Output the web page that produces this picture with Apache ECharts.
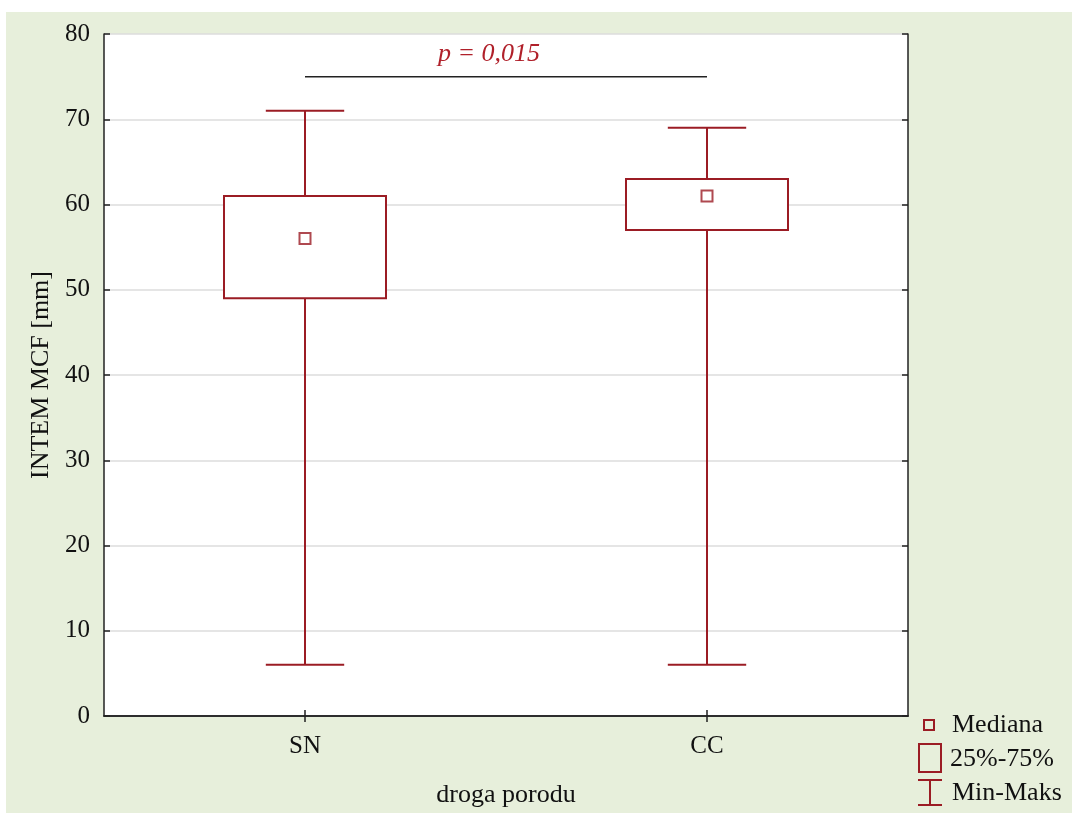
<!DOCTYPE html>
<html>
<head>
<meta charset="utf-8">
<script src="https://cdn.jsdelivr.net/npm/echarts@6/dist/echarts.min.js"></script>
<style>
html,body{margin:0;padding:0;background:#ffffff;overflow:hidden;}
#chart{width:1072px;height:813px;
  background: linear-gradient(#e7efdb,#e7efdb) no-repeat 6px 12px / 100% 100%, #ffffff;}
</style>
</head>
<body>
<div id="chart"></div>
<script>
var categories = ['SN', 'CC'];
var minValues = [6, 6];
var q1Values = [49, 57];
var medianValues = [56, 61];
var q3Values = [61, 63];
var maxValues = [71, 69];
var pLineValue = 75;
var pText = 'p = 0,015';
var yTicks = [0, 10, 20, 30, 40, 50, 60, 70, 80];

var RED = '#9b1c24';
var FONT = '"Liberation Serif", "Times New Roman", serif';

var boxData = categories.map(function (c, i) {
  return [i, minValues[i], q1Values[i], medianValues[i], q3Values[i], maxValues[i]];
});
var medianData = categories.map(function (c, i) { return [c, medianValues[i]]; });

function renderBox(params, api) {
  var idx = api.value(0);
  var pMin = api.coord([idx, api.value(1)]);
  var pQ1 = api.coord([idx, api.value(2)]);
  var pQ3 = api.coord([idx, api.value(4)]);
  var pMax = api.coord([idx, api.value(5)]);
  var band = api.size([1, 0])[0];
  var bw = band * 0.403;
  var cw = band * 0.195;
  var x = pQ1[0];
  var ls = {stroke: RED, lineWidth: 2, fill: null};
  return {
    type: 'group',
    children: [
      {type: 'line', shape: {x1: x, y1: pMin[1], x2: x, y2: pQ1[1]}, style: ls},
      {type: 'line', shape: {x1: x, y1: pQ3[1], x2: x, y2: pMax[1]}, style: ls},
      {type: 'line', shape: {x1: x - cw / 2, y1: pMin[1], x2: x + cw / 2, y2: pMin[1]}, style: ls},
      {type: 'line', shape: {x1: x - cw / 2, y1: pMax[1], x2: x + cw / 2, y2: pMax[1]}, style: ls},
      {type: 'rect', shape: {x: x - bw / 2, y: pQ3[1], width: bw, height: pQ1[1] - pQ3[1]},
        style: {stroke: RED, lineWidth: 2, fill: '#ffffff'}}
    ]
  };
}

var axisLabelStyle = {color: '#111', fontFamily: FONT, fontSize: 25};

var chart = echarts.init(document.getElementById('chart'), null, {renderer: 'canvas', width: 1072, height: 813});
chart.setOption({
  backgroundColor: 'transparent',
  animation: false,
  grid: {left: 104, right: 164, top: 34, bottom: 95, show: true, backgroundColor: '#ffffff', borderWidth: 0},
  xAxis: [{
    type: 'category',
    data: categories,
    boundaryGap: true,
    name: 'droga porodu',
    nameLocation: 'middle',
    nameGap: 66,
    nameTextStyle: {color: '#111', fontFamily: FONT, fontSize: 26},
    axisLine: {show: true, lineStyle: {color: '#222', width: 1.5}},
    axisTick: {show: true, inside: true, alignWithLabel: true, length: 6, lineStyle: {color: '#222', width: 1.5}},
    axisLabel: Object.assign({margin: 18}, axisLabelStyle),
    splitLine: {show: false}
  }, {
    type: 'category',
    data: categories,
    position: 'top',
    boundaryGap: true,
    axisLine: {show: true, lineStyle: {color: '#222', width: 1.5}},
    axisTick: {show: true, inside: true, alignWithLabel: true, length: 6, lineStyle: {color: '#222', width: 1.5}},
    axisLabel: {show: false},
    splitLine: {show: false}
  }],
  yAxis: [{
    type: 'value',
    min: 0, max: 80, interval: 10,
    name: 'INTEM MCF [mm]',
    nameLocation: 'middle',
    nameGap: 46,
    nameTextStyle: {color: '#111', fontFamily: FONT, fontSize: 26},
    axisLine: {show: true, lineStyle: {color: '#222', width: 1.5}},
    axisTick: {show: true, inside: true, length: 6, lineStyle: {color: '#222', width: 1.5}},
    axisLabel: Object.assign({margin: 14, formatter: function (v) { return yTicks.indexOf(v) >= 0 ? String(v) : ''; }}, axisLabelStyle),
    splitLine: {show: true, lineStyle: {color: '#dcdcdc', width: 1.5}}
  }, {
    type: 'value',
    position: 'right',
    min: 0, max: 80, interval: 10,
    axisLine: {show: true, lineStyle: {color: '#222', width: 1.5}},
    axisTick: {show: true, inside: true, length: 6, lineStyle: {color: '#222', width: 1.5}},
    axisLabel: {show: false},
    splitLine: {show: false}
  }],
  series: [{
    type: 'custom',
    name: 'box',
    renderItem: renderBox,
    data: boxData,
    encode: {x: 0, y: [1, 2, 3, 4, 5]},
    z: 3
  }, {
    type: 'scatter',
    name: 'Mediana',
    data: medianData,
    symbol: 'rect',
    symbolSize: 11,
    itemStyle: {color: '#ffffff', borderColor: RED, borderWidth: 2},
    z: 5
  }, {
    type: 'line',
    name: 'p',
    data: [[categories[0], pLineValue], [categories[1], pLineValue]],
    symbol: 'none',
    lineStyle: {color: '#222', width: 1.5},
    z: 4
  }],
  graphic: [
    {type: 'text', left: 438, top: 41, style: {text: pText, fill: '#b0202a', font: 'italic 26px ' + FONT}},
    {type: 'rect', shape: {x: 924, y: 720, width: 10, height: 10}, style: {stroke: RED, lineWidth: 2, fill: null}},
    {type: 'text', x: 952, y: 725, style: {text: 'Mediana', fill: '#111', font: '26px ' + FONT, verticalAlign: 'middle'}},
    {type: 'rect', shape: {x: 919, y: 744, width: 22, height: 28}, style: {stroke: RED, lineWidth: 2, fill: null}},
    {type: 'text', x: 950, y: 759, style: {text: '25%-75%', fill: '#111', font: '26px ' + FONT, verticalAlign: 'middle'}},
    {type: 'line', shape: {x1: 918, y1: 780, x2: 942, y2: 780}, style: {stroke: RED, lineWidth: 2}},
    {type: 'line', shape: {x1: 918, y1: 805, x2: 942, y2: 805}, style: {stroke: RED, lineWidth: 2}},
    {type: 'line', shape: {x1: 930, y1: 780, x2: 930, y2: 805}, style: {stroke: RED, lineWidth: 2}},
    {type: 'text', x: 952, y: 793, style: {text: 'Min-Maks', fill: '#111', font: '26px ' + FONT, verticalAlign: 'middle'}}
  ]
});
</script>
</body>
</html>
